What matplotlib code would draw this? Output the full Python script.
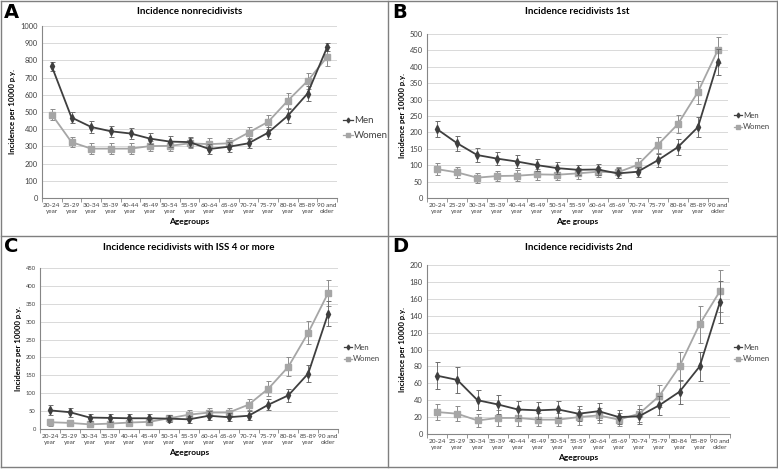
import matplotlib.pyplot as plt
from matplotlib.lines import Line2D

plt.rcParams['font.family'] = ['Lato', 'DejaVu Sans']

ages = ["20-24\nyear", "25-29\nyear", "30-34\nyear", "35-39\nyear", "40-44\nyear",
        "45-49\nyear", "50-54\nyear", "55-59\nyear", "60-64\nyear", "65-69\nyear",
        "70-74\nyear", "75-79\nyear", "80-84\nyear", "85-89\nyear", "90 and\nolder"]

# panel A - nonrecidivists
a_men = [765, 468, 413, 388, 375, 345, 328, 325, 285, 298, 318, 380, 478, 607, 877]
a_men_err = [28, 33, 33, 33, 32, 30, 30, 30, 30, 30, 30, 35, 40, 45, 25]
a_women = [485, 325, 287, 287, 287, 302, 303, 318, 313, 318, 380, 443, 566, 680, 820]
a_women_err = [30, 30, 30, 30, 30, 30, 30, 30, 33, 32, 35, 40, 45, 45, 55]

# panel B - recidivists 1st
b_men = [210, 167, 131, 120, 111, 100, 91, 86, 87, 75, 80, 115, 155, 216, 415]
b_men_err = [25, 23, 21, 20, 20, 18, 18, 16, 16, 15, 15, 20, 25, 30, 40]
b_women = [88, 78, 62, 67, 68, 72, 71, 75, 80, 78, 101, 162, 225, 323, 452]
b_women_err = [18, 16, 15, 15, 16, 16, 16, 16, 16, 16, 20, 25, 28, 35, 40]

# panel C - recidivists with ISS 4 or more
c_men = [52, 47, 32, 31, 30, 30, 29, 27, 37, 33, 37, 68, 94, 155, 322]
c_men_err = [14, 13, 11, 11, 11, 11, 10, 10, 12, 11, 12, 16, 18, 24, 35]
c_women = [19, 17, 13, 15, 18, 20, 30, 40, 46, 46, 68, 113, 174, 269, 380]
c_women_err = [10, 9, 8, 8, 9, 10, 10, 12, 13, 13, 16, 20, 26, 32, 37]

# panel D - recidivists 2nd
d_men = [69, 64, 40, 35, 29, 28, 29, 24, 27, 20, 21, 34, 50, 80, 156]
d_men_err = [16, 15, 12, 11, 10, 10, 10, 9, 10, 8, 9, 11, 14, 17, 25]
d_women = [26, 24, 16, 19, 19, 17, 17, 20, 22, 17, 24, 45, 80, 130, 169]
d_women_err = [10, 9, 8, 9, 9, 8, 8, 9, 9, 8, 10, 13, 17, 22, 25]

W, H = 778, 469
fig = plt.figure(figsize=(W / 100, H / 100), dpi=100)

men_c = '#3f3f3f'
women_c = '#a6a6a6'


def px_axes(left, right, top, bottom):
    return fig.add_axes([left / W, 1 - bottom / H, (right - left) / W, (bottom - top) / H])


def panel(box, letter, letter_xy, title, title_y, men, men_err, women, women_err,
          ymax, ystep, xlabel, leg_xy, leg_size, ysize):
    ax = px_axes(*box)
    x = list(range(len(ages)))
    ax.errorbar(x, women, yerr=women_err, color=women_c, marker='s', ms=4.5,
                lw=1.3, ecolor='#8c8c8c', elinewidth=0.7, capsize=1.8, capthick=0.7, zorder=3)
    ax.errorbar(x, men, yerr=men_err, color=men_c, marker='d', ms=4,
                lw=1.3, ecolor='#6e6e6e', elinewidth=0.7, capsize=1.8, capthick=0.7, zorder=4)
    ax.set_xlim(-0.5, len(ages) - 0.5)
    ax.set_ylim(0, ymax)
    ax.set_yticks(range(0, ymax + 1, ystep))
    ax.set_xticks(x)
    ax.set_xticklabels(ages, fontsize=4.6, color='#404040', linespacing=1.2)
    ax.set_xticks([i - 0.5 for i in range(len(ages) + 1)], minor=True)
    ax.tick_params(axis='x', which='major', length=0, pad=3.5)
    ax.tick_params(axis='x', which='minor', length=3, color='#868686')
    ax.tick_params(axis='y', length=0, labelsize=ysize, labelcolor='#404040', pad=3)
    ax.grid(axis='y', color='#d9d9d9', lw=0.7)
    ax.set_axisbelow(True)
    for s in ['top', 'right']:
        ax.spines[s].set_visible(False)
    ax.spines['left'].set_color('#868686')
    ax.spines['bottom'].set_color('#868686')
    ax.set_ylabel("Incidence per 10000 p.y.", fontsize=5.6, fontweight='bold', labelpad=3)
    ax.set_xlabel(xlabel, fontsize=6, fontweight='bold', labelpad=3)
    fig.text((box[0] + box[1]) / 2 / W, 1 - title_y / H, title, ha='center', va='center',
             fontsize=7, fontweight='bold')
    fig.text(letter_xy[0] / W, 1 - letter_xy[1] / H, letter, ha='left', va='center',
             fontsize=14, fontweight='bold', family='DejaVu Sans')
    handles = [Line2D([], [], color=men_c, marker='d', ms=2.5, lw=0.9),
               Line2D([], [], color=women_c, marker='s', ms=2.5, lw=0.9)]
    fig.legend(handles, ['Men', 'Women'], loc='center left',
               bbox_to_anchor=(leg_xy[0] / W, 1 - leg_xy[1] / H), frameon=False,
               fontsize=leg_size, handlelength=1.0, handletextpad=0.15, labelspacing=0.6,
               labelcolor='#404040', borderaxespad=0, borderpad=0)
    return ax


panel((42, 337, 26, 198), 'A', (4, 12), 'Incidence nonrecidivists', 12,
      a_men, a_men_err, a_women, a_women_err, 1000, 100, 'Agegroups', (343, 128), 7, 5.4)
panel((427, 728, 34, 198), 'B', (392, 12), 'Incidence recidivists 1st', 12,
      b_men, b_men_err, b_women, b_women_err, 500, 50, 'Age groups', (734, 121), 5.6, 5.4)
panel((40, 338, 268, 429), 'C', (4, 247), 'Incidence recidivists with ISS 4 or more', 247,
      c_men, c_men_err, c_women, c_women_err, 450, 50, 'Agegroups', (344, 353), 5.6, 4.2)
panel((427, 730, 265, 434), 'D', (392, 246), 'Incidence recidivists 2nd', 247,
      d_men, d_men_err, d_women, d_women_err, 200, 20, 'Agegroups', (734, 353), 5.6, 5.4)

# panel frames
border = '#7f7f7f'
for xs, ys in [([1, 777], [1, 1]), ([1, 777], [467, 467]), ([1, 1], [1, 467]),
               ([777, 777], [1, 467]), ([388, 388], [1, 467]), ([1, 777], [236, 236])]:
    fig.add_artist(Line2D([v / W for v in xs], [1 - v / H for v in ys], color=border, lw=1))

fig.savefig('out.png', dpi=100)
